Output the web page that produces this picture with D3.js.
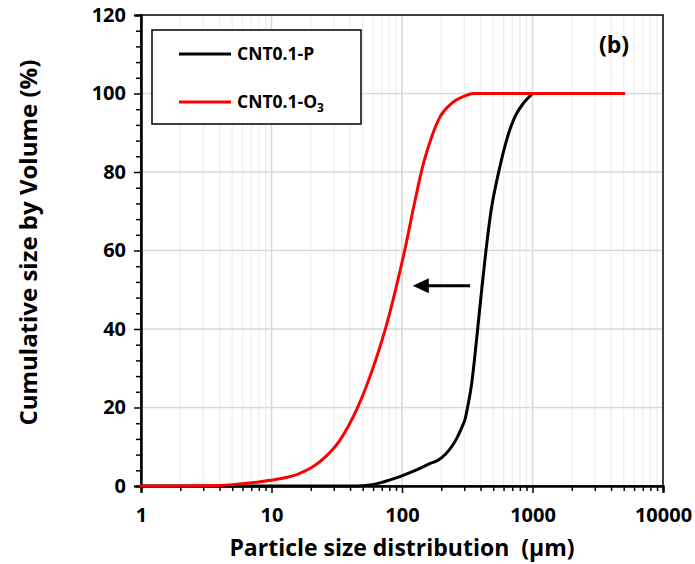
<!DOCTYPE html>
<html>
<head>
<meta charset="utf-8">
<script src="https://cdn.jsdelivr.net/npm/d3@7"></script>
<style>
  html, body { margin: 0; padding: 0; background: #fff; }
  svg { display: block; }
  text { font-family: "Open Sans", Lato, sans-serif; font-weight: 700; fill: #000; }
</style>
</head>
<body>
<svg id="chart" width="695" height="564"></svg>
<script>
// Particle size (µm) and cumulative volume (%) for each sample
const sizeP  = [1, 10, 30, 45, 55, 68, 80, 96.5, 115, 137, 160, 190, 215, 240, 265, 288, 304, 319, 340, 360, 380, 408, 440, 487, 516, 554, 634, 734, 850, 974, 1000, 5000];
const cumP   = [0, 0, 0, 0, 0.2, 0.8, 1.5, 2.4, 3.4, 4.5, 5.6, 6.6, 8.1, 10, 12.4, 15, 17, 20.3, 25.5, 32.5, 40, 50, 60, 71.2, 75.6, 80.4, 88.2, 94.1, 97.5, 99.6, 100, 100];

const sizeO3 = [1, 2, 3, 4, 5, 6.5, 8.2, 11, 16.5, 23.5, 33.5, 46, 62, 76, 90, 105, 126, 146, 169, 196, 240, 300, 352, 5000];
const cumO3  = [0, 0, 0.05, 0.15, 0.35, 0.7, 1.1, 1.7, 3.2, 6.2, 11.7, 20.2, 31.5, 41, 50.5, 60.1, 72.8, 82.2, 89, 94.1, 97.5, 99.3, 100, 100];

const seriesNames = ["CNT0.1-P", "CNT0.1-O"];
const seriesColors = ["#000000", "#ff0000"];

const xTickValues = [1, 10, 100, 1000, 10000];
const yTickValues = [0, 20, 40, 60, 80, 100, 120];

// shift arrow (µm, %)
const arrowFrom = [332, 51];
const arrowTo = [121, 51];

const svg = d3.select("#chart");
const m = { left: 141, top: 15, right: 32, bottom: 78 };
const W = 695 - m.left - m.right;
const H = 564 - m.top - m.bottom;

const x = d3.scaleLog().domain([1, 10000]).range([m.left, m.left + W]);
const y = d3.scaleLinear().domain([0, 120]).range([m.top + H, m.top]);

// minor positions on the log axis
const minorX = [];
for (let d = 1; d < 10000; d *= 10) for (let k = 2; k <= 9; k++) minorX.push(d * k);
const minorY = d3.range(0, 121, 4).filter(v => v % 20 !== 0);

// gridlines
const grid = svg.append("g");
grid.selectAll(".vminor").data(minorX).join("line")
  .attr("x1", d => x(d)).attr("x2", d => x(d))
  .attr("y1", y(0)).attr("y2", y(120))
  .attr("stroke", "#eeeeee").attr("stroke-width", 1.2);
grid.selectAll(".vmajor").data(xTickValues.slice(1, -1)).join("line")
  .attr("x1", d => x(d)).attr("x2", d => x(d))
  .attr("y1", y(0)).attr("y2", y(120))
  .attr("stroke", "#d9d9d9").attr("stroke-width", 1.6);
grid.selectAll(".hmajor").data(yTickValues.slice(1, -1)).join("line")
  .attr("x1", x(1)).attr("x2", x(10000))
  .attr("y1", d => y(d)).attr("y2", d => y(d))
  .attr("stroke", "#d9d9d9").attr("stroke-width", 1.6);

// plot frame
svg.append("rect")
  .attr("x", m.left).attr("y", m.top).attr("width", W).attr("height", H)
  .attr("fill", "none").attr("stroke", "#000").attr("stroke-width", 1.5);

const tickFont = sel => sel.attr("font-size", 20).attr("font-family", "'Open Sans', sans-serif")
  .attr("font-weight", 700).attr("fill", "#000");

// axes
const xAxis = svg.append("g").attr("transform", `translate(0,${y(0)})`);
xAxis.call(d3.axisBottom(x).tickValues(minorX).tickSize(5).tickFormat(""));
xAxis.append("g").call(d3.axisBottom(x).tickValues(xTickValues).tickSize(7).tickPadding(15).tickFormat(d3.format("d")));
xAxis.selectAll("path.domain").attr("stroke", "#000").attr("stroke-width", 2);
xAxis.selectAll(".tick line").attr("stroke", "#000").attr("stroke-width", 1.5);
xAxis.selectAll("text").call(tickFont);

const yAxis = svg.append("g").attr("transform", `translate(${x(1)},0)`);
yAxis.call(d3.axisLeft(y).tickValues(minorY).tickSize(5).tickFormat(""));
yAxis.append("g").call(d3.axisLeft(y).tickValues(yTickValues).tickSize(7).tickPadding(8).tickFormat(d3.format("d")));
yAxis.selectAll("path.domain").attr("stroke", "#000").attr("stroke-width", 2);
yAxis.selectAll(".tick line").attr("stroke", "#000").attr("stroke-width", 1.5);
yAxis.selectAll("text").call(tickFont);

// curves
const line = d3.line()
  .x(d => x(d[0])).y(d => y(d[1]))
  .curve(d3.curveMonotoneX);
const dataP = sizeP.map((s, i) => [s, cumP[i]]);
const dataO3 = sizeO3.map((s, i) => [s, cumO3[i]]);

svg.append("path").datum(dataP).attr("d", line)
  .attr("fill", "none").attr("stroke", seriesColors[0]).attr("stroke-width", 3)
  .attr("stroke-linejoin", "round").attr("stroke-linecap", "round");
svg.append("path").datum(dataO3).attr("d", line)
  .attr("fill", "none").attr("stroke", seriesColors[1]).attr("stroke-width", 3)
  .attr("stroke-linejoin", "round").attr("stroke-linecap", "round");

// shift arrow
const ax1 = x(arrowFrom[0]), ax2 = x(arrowTo[0]), ay = y(arrowFrom[1]);
svg.append("line").attr("x1", ax1).attr("x2", ax2 + 14).attr("y1", ay).attr("y2", ay)
  .attr("stroke", "#000").attr("stroke-width", 3);
svg.append("path")
  .attr("d", `M${ax2},${ay} L${ax2 + 16},${ay - 7.5} L${ax2 + 16},${ay + 7.5} Z`)
  .attr("fill", "#000");

// legend
const lg = svg.append("g");
lg.append("rect").attr("x", 152).attr("y", 30).attr("width", 209).attr("height", 94)
  .attr("fill", "#fff").attr("stroke", "#000").attr("stroke-width", 1.5);
const rows = [54, 102];
seriesNames.forEach((name, i) => {
  lg.append("line").attr("x1", 179).attr("x2", 231).attr("y1", rows[i]).attr("y2", rows[i])
    .attr("stroke", seriesColors[i]).attr("stroke-width", 3);
  const t = lg.append("text").attr("x", 237).attr("y", rows[i]).attr("dy", "0.36em")
    .attr("font-size", 17.5).text(name);
  if (i === 1) t.append("tspan").attr("font-size", 12).attr("dy", "0.3em").text("3");
});

// panel label
svg.append("text").attr("x", 614).attr("y", 45).attr("dy", "0.36em")
  .attr("text-anchor", "middle").attr("font-size", 23).text("(b)");

// axis titles
svg.append("text").attr("x", x(100)).attr("y", 556)
  .attr("text-anchor", "middle").attr("font-size", 23)
  .style("white-space", "pre").text("Particle size distribution  (µm)");
svg.append("text")
  .attr("transform", `translate(28,${y(62)}) rotate(-90)`)
  .attr("text-anchor", "middle").attr("dy", "0.36em").attr("font-size", 24)
  .text("Cumulative size by Volume (%)");
</script>
</body>
</html>
